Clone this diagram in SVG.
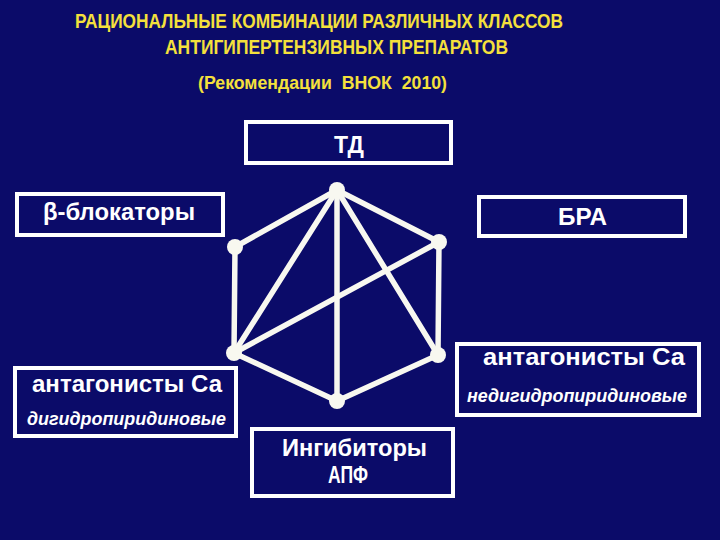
<svg xmlns="http://www.w3.org/2000/svg" width="720" height="540" viewBox="0 0 720 540">
<style>
.title{font-family:"Liberation Sans",Arial,sans-serif;font-weight:bold;fill:#f4e03c}
.box{fill:#0b0b69;stroke:#ffffff;stroke-width:4}
.lbl{font-family:"Liberation Sans",Arial,sans-serif;font-weight:bold;fill:#ffffff;font-size:23px}
.it{font-family:"Liberation Sans",Arial,sans-serif;font-weight:bold;font-style:italic;fill:#ffffff;font-size:19px}
.edge{stroke:#f8f8f0;stroke-width:5.5;stroke-linecap:round;fill:none}
.dot{fill:#f8f8f0}
</style>
<rect width="720" height="540" fill="#0b0b69"/>
<text class="title" x="75" y="28" font-size="20.5" textLength="488" lengthAdjust="spacingAndGlyphs">РАЦИОНАЛЬНЫЕ КОМБИНАЦИИ РАЗЛИЧНЫХ КЛАССОВ</text>
<text class="title" x="165" y="54" font-size="20.5" textLength="343" lengthAdjust="spacingAndGlyphs">АНТИГИПЕРТЕНЗИВНЫХ ПРЕПАРАТОВ</text>
<text class="title" x="198" y="89" font-size="18.5" textLength="249" lengthAdjust="spacingAndGlyphs" xml:space="preserve">(Рекомендации  ВНОК  2010)</text>
<g id="connectors">
<line class="edge" x1="337" y1="190" x2="235" y2="247"/>
<line class="edge" x1="337" y1="190" x2="439" y2="242"/>
<line class="edge" x1="235" y1="247" x2="234" y2="353"/>
<line class="edge" x1="439" y1="242" x2="438" y2="355"/>
<line class="edge" x1="234" y1="353" x2="337" y2="401"/>
<line class="edge" x1="438" y1="355" x2="337" y2="401"/>
<line class="edge" x1="337" y1="190" x2="234" y2="353"/>
<line class="edge" x1="337" y1="190" x2="337" y2="401"/>
<line class="edge" x1="337" y1="190" x2="438" y2="355"/>
<line class="edge" x1="234" y1="353" x2="439" y2="242"/>
<circle class="dot" cx="337" cy="190" r="8"/>
<circle class="dot" cx="235" cy="247" r="8"/>
<circle class="dot" cx="439" cy="242" r="8"/>
<circle class="dot" cx="234" cy="353" r="8"/>
<circle class="dot" cx="438" cy="355" r="8"/>
<circle class="dot" cx="337" cy="401" r="8"/>
</g>
<g id="td">
<rect class="box" x="246" y="122" width="205" height="41"/>
<text class="lbl" x="349" y="153" text-anchor="middle" font-size="25">ТД</text>
</g>
<g id="beta">
<rect class="box" x="17" y="194" width="206" height="41"/>
<text class="lbl" x="43" y="220" textLength="152" lengthAdjust="spacingAndGlyphs">β-блокаторы</text>
</g>
<g id="bra">
<rect class="box" x="479" y="197" width="206" height="39"/>
<text class="lbl" x="558" y="225" textLength="49" lengthAdjust="spacingAndGlyphs">БРА</text>
</g>
<g id="ca-dhp">
<rect class="box" x="15" y="368" width="221" height="68"/>
<text class="lbl" x="32" y="392" textLength="190" lengthAdjust="spacingAndGlyphs">антагонисты Са</text>
<text class="it" x="27" y="425" textLength="199" lengthAdjust="spacingAndGlyphs">дигидропиридиновые</text>
</g>
<g id="ca-ndhp">
<rect class="box" x="457" y="344" width="242" height="71"/>
<text class="lbl" x="483" y="365" textLength="202" lengthAdjust="spacingAndGlyphs">антагонисты Са</text>
<text class="it" x="467" y="402" textLength="220" lengthAdjust="spacingAndGlyphs">недигидропиридиновые</text>
</g>
<g id="apf">
<rect class="box" x="252" y="429" width="201" height="67"/>
<text class="lbl" x="282" y="456" textLength="145" lengthAdjust="spacingAndGlyphs">Ингибиторы</text>
<text class="lbl" x="328" y="483" textLength="40" lengthAdjust="spacingAndGlyphs">АПФ</text>
</g>
</svg>
